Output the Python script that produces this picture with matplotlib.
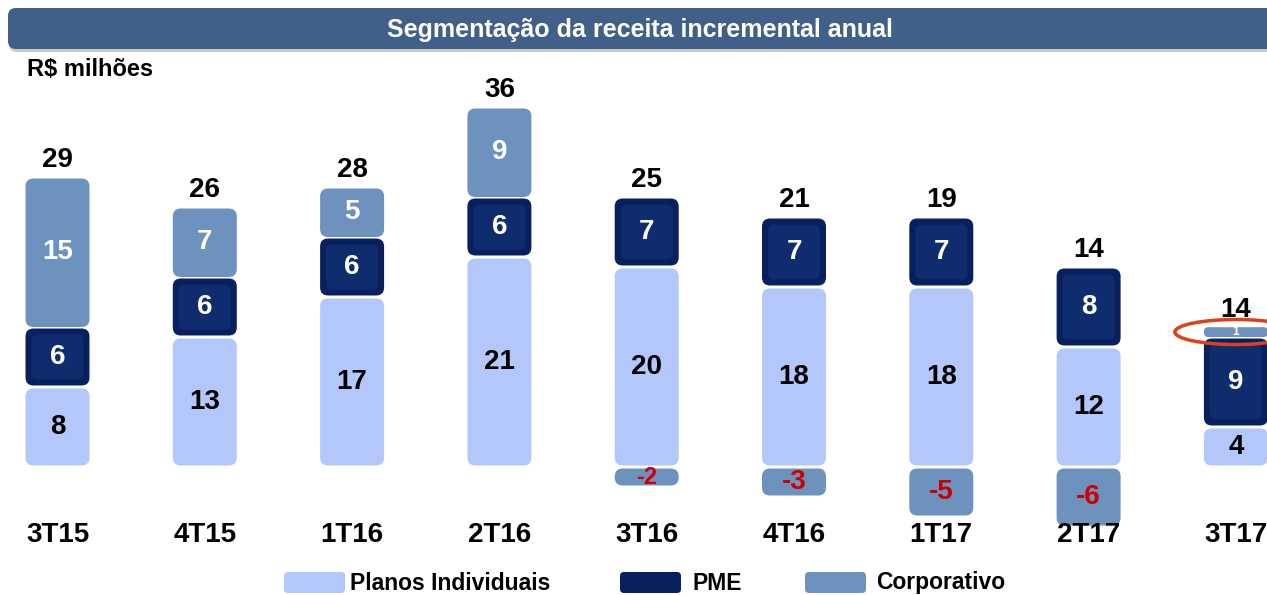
import matplotlib
matplotlib.use('Agg')
import matplotlib.pyplot as plt
from matplotlib.patches import FancyBboxPatch, Ellipse

# ---- data ----
categories = ['3T15', '4T15', '1T16', '2T16', '3T16', '4T16', '1T17', '2T17', '3T17']
planos = [8, 13, 17, 21, 20, 18, 18, 12, 4]
pme = [6, 6, 6, 6, 7, 7, 7, 8, 9]
corp = [15, 7, 5, 9, -2, -3, -5, -6, 1]
totals = [29, 26, 28, 36, 25, 21, 19, 14, 14]
series_names = ['Planos Individuais', 'PME', 'Corporativo']
title = 'Segmentação da receita incremental anual'
unit_label = 'R$ milhões'

# ---- style ----
C_PLANOS = '#B3C7FA'
C_PME = '#08215E'
C_PME_IN = '#0E2C6E'
C_CORP = '#6E92BE'
C_BANNER = '#40608A'
C_NEG = '#CC0000'

plt.rcParams['font.family'] = ['Liberation Sans', 'DejaVu Sans']

W, H = 1267, 595
fig = plt.figure(figsize=(W / 100, H / 100), dpi=100)

# data axes: linear mapping chosen so bars land at their positions
X0, DX, Y0, SY = 57.5, 147.3, 467.0, 10.0
ax = fig.add_axes([0, 0, 1, 1])
ax.set_axis_off()
ax.set_xlim(-X0 / DX, (W - X0) / DX)
ax.set_ylim((Y0 - H) / SY, Y0 / SY)
ASP = DX / SY
BW = 64 / DX
FS = 20


def rbox(xc, y0, y1, color, r_px=8, z=2, gap=0.15):
    lo, hi = min(y0, y1), max(y0, y1)
    lo += gap
    hi -= gap
    h_px = (hi - lo) * SY
    r = max(min(r_px, h_px / 2 - 0.5), 1) / DX
    p = FancyBboxPatch((xc - BW / 2, lo), BW, hi - lo,
                       boxstyle=f'round,pad=0,rounding_size={r}',
                       mutation_aspect=ASP, fc=color, ec='none', zorder=z)
    ax.add_patch(p)
    return p


def seg_fs(v):
    # font size whose digit height fits inside a segment of |v| units
    h_px = abs(v) * SY
    return min(FS, max(8, h_px / (0.72 * 100 / 72) * 0.85))


LBL = dict(fontweight='bold', ha='center', va='center')

for i, cat in enumerate(categories):
    p, m, c = planos[i], pme[i], corp[i]
    # corporativo
    if c >= 0:
        g = 0.15 if c >= 2 else 0.02
        rbox(i, p + m - g, p + m + c, C_CORP, z=2, gap=g)
        ax.text(i, p + m + c / 2, str(c), color='white', zorder=6,
                fontsize=seg_fs(c), **LBL)
    else:
        rbox(i, 0, c, C_CORP, z=2)
        ax.text(i, c / 2, str(c), color=C_NEG, zorder=6, fontsize=seg_fs(c), **LBL)
    # planos
    rbox(i, 0, p, C_PLANOS, z=3)
    ax.text(i, p / 2, str(p), color='black', zorder=6, fontsize=FS, **LBL)
    # pme with a bevel-like inner box
    rbox(i, p, p + m, C_PME, z=4)
    inner = FancyBboxPatch((i - BW / 2 + 6 / DX, p + 0.75), BW - 12 / DX, m - 1.5,
                           boxstyle=f'round,pad=0,rounding_size={6 / DX}',
                           mutation_aspect=ASP, fc=C_PME_IN, ec='none', zorder=4.5)
    ax.add_patch(inner)
    ax.text(i, p + m / 2, str(m), color='white', zorder=6, fontsize=FS, **LBL)
    # total
    top = p + m + max(c, 0)
    ax.text(i, top + 0.4, str(totals[i]), fontsize=FS, fontweight='bold',
            ha='center', va='bottom', color='black', zorder=6)
    # category label
    ax.text(i, (Y0 - 535) / SY, cat, fontsize=FS, fontweight='bold',
            ha='center', va='center', color='black')

# highlight ellipse on the last corporativo segment
li = len(categories) - 1
ell = Ellipse((li, planos[li] + pme[li] + corp[li] / 2), 122 / DX, 2.5,
              fill=False, ec='#D9421A', lw=2.5, zorder=7)
ax.add_patch(ell)

# overlay axes in pixel coordinates for banner and legend
lay = fig.add_axes([0, 0, 1, 1], zorder=5)
lay.set_axis_off()
lay.set_xlim(0, W)
lay.set_ylim(H, 0)
lay.patch.set_alpha(0)

lay.add_patch(FancyBboxPatch((9, 11), 1280, 41, boxstyle='round,pad=0,rounding_size=8',
                             fc='#A8A8A8', ec='none', alpha=0.6))
lay.add_patch(FancyBboxPatch((8, 8), 1280, 41, boxstyle='round,pad=0,rounding_size=8',
                             fc=C_BANNER, ec='none'))
lay.text(640, 30, title, color='white', fontsize=18, fontweight='bold',
         ha='center', va='center')
lay.text(27, 70, unit_label, color='black', fontsize=17, fontweight='bold',
         ha='left', va='center')

leg_x = [284, 620, 805]
leg_tx = [350, 692, 876]
leg_c = [C_PLANOS, C_PME, C_CORP]
for sx, tx, col, name in zip(leg_x, leg_tx, leg_c, series_names):
    lay.add_patch(FancyBboxPatch((sx, 572), 61, 21, boxstyle='round,pad=0,rounding_size=4',
                                 fc=col, ec='none'))
    lay.text(tx, 583, name, color='black', fontsize=16.5, fontweight='bold',
             ha='left', va='center')

fig.savefig('out.png', dpi=100, facecolor='white')
